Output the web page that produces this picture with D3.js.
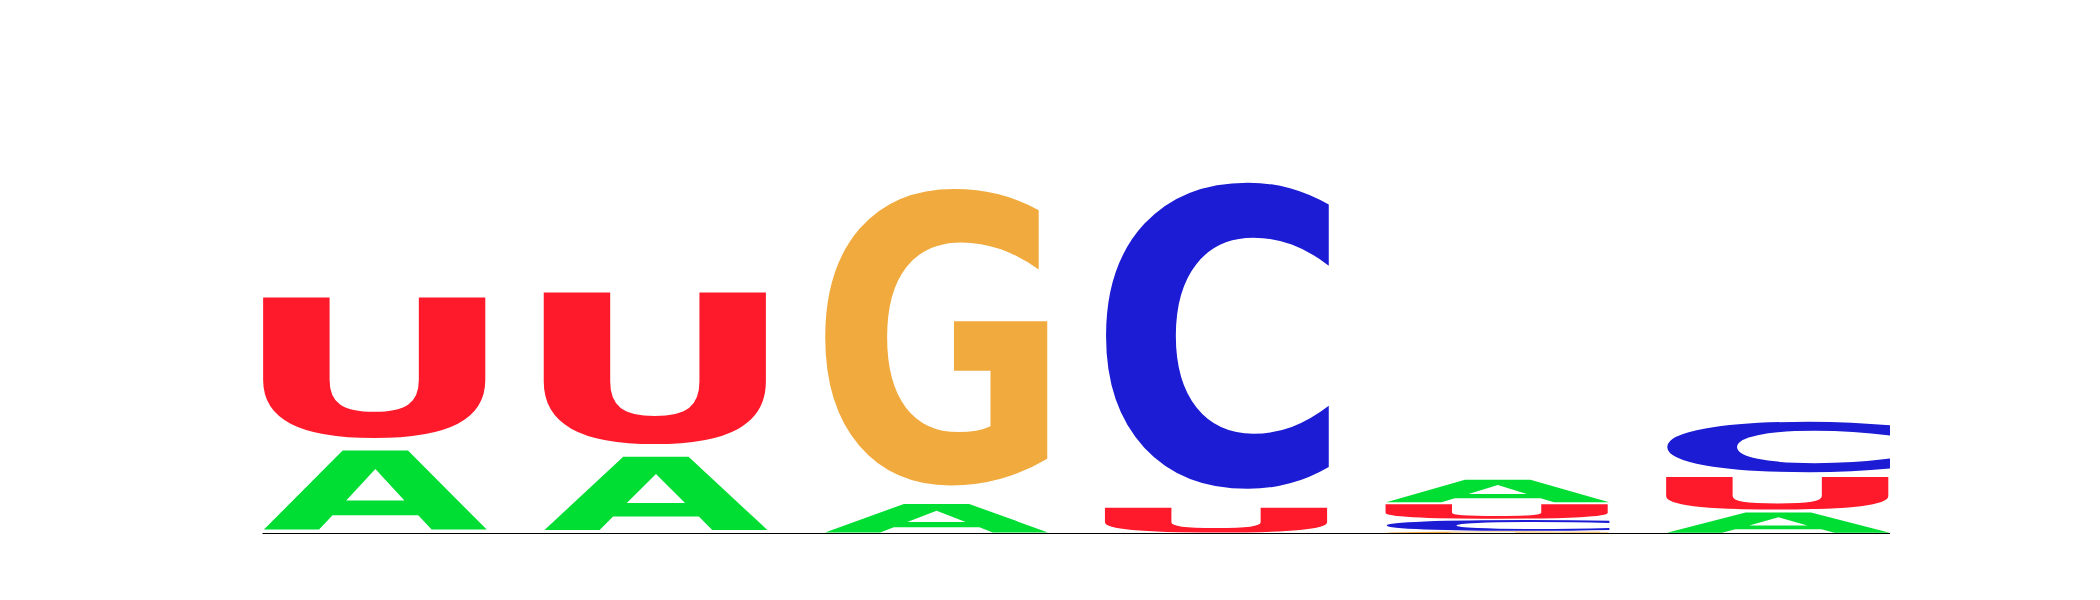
<!DOCTYPE html>
<html>
<head>
<meta charset="utf-8">
<script src="https://cdn.jsdelivr.net/npm/d3@7"></script>
<style>
  html, body { margin: 0; padding: 0; background: #fff; }
  svg { display: block; }
</style>
</head>
<body>
<svg id="logo" width="2100" height="600"></svg>
<script>
// positions of the motif and information (bits) per base
const positions = [1, 2, 3, 4, 5, 6];
const bases = ['A', 'C', 'G', 'U'];
const bitsA = [0.381, 0.352, 0.137, 0.000, 0.108, 0.098];
const bitsC = [0.000, 0.000, 0.000, 1.480, 0.052, 0.244];
const bitsG = [0.000, 0.000, 1.433, 0.000, 0.011, 0.000];
const bitsU = [0.678, 0.731, 0.000, 0.120, 0.069, 0.157];
const baseColors = ['#00dd33', '#1c1cd4', '#f1aa3d', '#ff1a2b'];

const width = 2100, height = 600;
const margin = { left: 262.5, right: 210, top: 72, bottom: 66 };
const vpad = 0.1; // glyph fills 90% of its box

const svg = d3.select('#logo');

const x = d3.scaleBand()
  .domain(positions)
  .range([margin.left, width - margin.right])
  .paddingInner(0.2)
  .paddingOuter(0);

const y = d3.scaleLinear()
  .domain([0, 2])
  .range([height - margin.bottom, margin.top]);

const color = d3.scaleOrdinal().domain(bases).range(baseColors);

const bitsByBase = { A: bitsA, C: bitsC, G: bitsG, U: bitsU };

// ink bounds of each glyph, so it can be stretched to fill a box
const font = "bold 200px 'DejaVu Sans'";
const ctx = document.createElement('canvas').getContext('2d');
ctx.font = font;
const ink = {};
bases.forEach(b => {
  const m = ctx.measureText(b);
  ink[b] = {
    left: -m.actualBoundingBoxLeft,
    right: m.actualBoundingBoxRight,
    top: -m.actualBoundingBoxAscent,
    bottom: m.actualBoundingBoxDescent
  };
});

// stack letters smallest at the bottom
const glyphs = [];
positions.forEach((p, i) => {
  const col = bases
    .map(b => ({ base: b, bits: bitsByBase[b][i] }))
    .filter(d => d.bits > 0)
    .sort((a, b) => a.bits - b.bits);
  let floor = 0;
  col.forEach(d => {
    glyphs.push({ pos: p, base: d.base, y0: floor, y1: floor + d.bits });
    floor += d.bits;
  });
});

svg.append('g')
  .selectAll('text')
  .data(glyphs)
  .join('text')
  .attr('font-family', "'DejaVu Sans'")
  .attr('font-weight', 'bold')
  .attr('font-size', 200)
  .attr('fill', d => color(d.base))
  .attr('transform', d => {
    const g = ink[d.base];
    const boxTop = y(d.y1), boxBottom = y(d.y0);
    const pad = (boxBottom - boxTop) * vpad / 2;
    const gx0 = x(d.pos), gx1 = x(d.pos) + x.bandwidth();
    const gy0 = boxTop + pad, gy1 = boxBottom - pad;
    const sx = (gx1 - gx0) / (g.right - g.left);
    const sy = (gy1 - gy0) / (g.bottom - g.top);
    return `translate(${gx0},${gy0}) scale(${sx},${sy}) translate(${-g.left},${-g.top})`;
  })
  .text(d => d.base);

// bottom spine
svg.append('line')
  .attr('x1', margin.left)
  .attr('x2', width - margin.right)
  .attr('y1', y(0) - 0.5)
  .attr('y2', y(0) - 0.5)
  .attr('stroke', '#000')
  .attr('stroke-width', 1.1);
</script>
</body>
</html>
